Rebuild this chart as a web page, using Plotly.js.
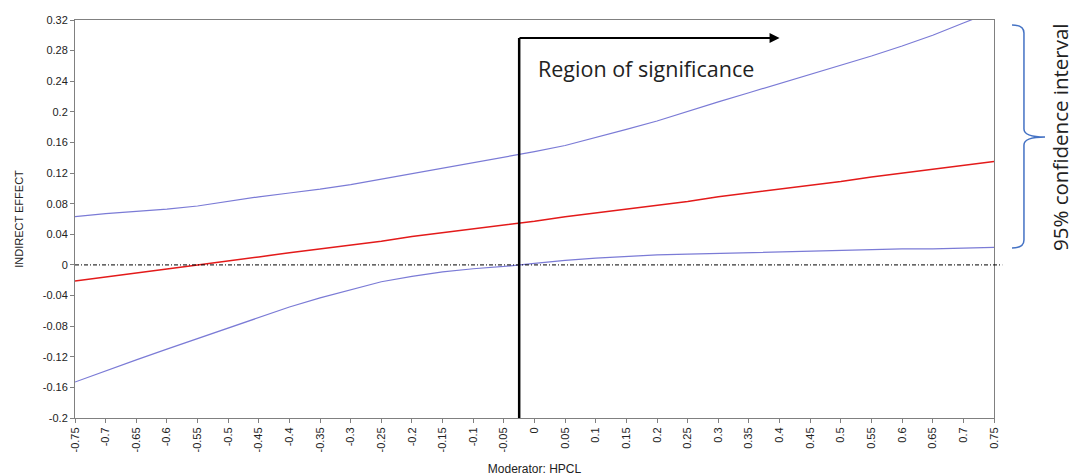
<!DOCTYPE html>
<html>
<head>
<meta charset="utf-8">
<script src="https://cdn.plot.ly/plotly-3.0.1.min.js"></script>
<style>html,body{margin:0;padding:0;background:#fff;}#chart{width:1073px;height:476px;}</style>
</head>
<body>
<div id="chart"></div>
<script>
// Moderator values (HPCL)
const moderator = [-0.75,-0.7,-0.65,-0.6,-0.55,-0.5,-0.45,-0.4,-0.35,-0.3,-0.25,-0.2,-0.15,-0.1,-0.05,0,
  0.05,0.1,0.15,0.2,0.25,0.3,0.35,0.4,0.45,0.5,0.55,0.6,0.65,0.7,0.75];
// Indirect effect (point estimate)
const indirectEffect = [-0.021,-0.016,-0.0105,-0.0053,0.000,0.005,0.0105,0.016,0.021,0.026,0.031,0.037,0.042,0.047,0.052,0.057,
  0.063,0.068,0.073,0.078,0.083,0.089,0.094,0.099,0.104,0.109,0.115,0.120,0.125,0.130,0.135];
// Upper 95% CI
const upperCI = [0.063,0.067,0.070,0.073,0.077,0.083,0.089,0.094,0.099,0.105,0.112,0.120,0.127,0.134,0.141,0.148,
  0.156,0.166,0.177,0.188,0.201,0.213,0.225,0.237,0.249,0.261,0.273,0.286,0.300,0.316,0.332];
// Lower 95% CI
const lowerCI = [-0.153,-0.138,-0.124,-0.110,-0.096,-0.082,-0.068,-0.055,-0.043,-0.032,-0.022,-0.015,-0.009,-0.005,-0.002,0.002,
  0.006,0.009,0.011,0.013,0.014,0.015,0.016,0.017,0.018,0.019,0.020,0.021,0.021,0.022,0.023];

// Tick labels
const xTickVals = [-0.75,-0.7,-0.65,-0.6,-0.55,-0.5,-0.45,-0.4,-0.35,-0.3,-0.25,-0.2,-0.15,-0.1,-0.05,0,
  0.05,0.1,0.15,0.2,0.25,0.3,0.35,0.4,0.45,0.5,0.55,0.6,0.65,0.7,0.75];
const xTickText = ["-0.75","-0.7","-0.65","-0.6","-0.55","-0.5","-0.45","-0.4","-0.35","-0.3","-0.25","-0.2","-0.15","-0.1","-0.05","0",
  "0.05","0.1","0.15","0.2","0.25","0.3","0.35","0.4","0.45","0.5","0.55","0.6","0.65","0.7","0.75"];
const yTickVals = [-0.2,-0.16,-0.12,-0.08,-0.04,0,0.04,0.08,0.12,0.16,0.2,0.24,0.28,0.32];
const yTickText = ["-0.2","-0.16","-0.12","-0.08","-0.04","0","0.04","0.08","0.12","0.16","0.2","0.24","0.28","0.32"];

// Johnson-Neyman boundary and arrow end
const jnPoint = -0.025;
const arrowEnd = 0.4;
const arrowLevel = 0.2965;

const blue = '#7b7bd6';
const traces = [
  {x: moderator, y: upperCI, type: 'scatter', mode: 'lines', line: {color: blue, width: 1.2}, hoverinfo: 'skip'},
  {x: moderator, y: lowerCI, type: 'scatter', mode: 'lines', line: {color: blue, width: 1.2}, hoverinfo: 'skip'},
  {x: moderator, y: indirectEffect, type: 'scatter', mode: 'lines', line: {color: '#e31a1a', width: 1.5}, hoverinfo: 'skip'}
];

const axisFont = {family: 'Liberation Sans, Arial, sans-serif', size: 11, color: '#222'};

const layout = {
  width: 1073, height: 476,
  margin: {l: 75, r: 79, t: 20, b: 58},
  paper_bgcolor: '#fff', plot_bgcolor: '#fff',
  showlegend: false,
  xaxis: {
    range: [-0.75, 0.75], tickvals: xTickVals, ticktext: xTickText, tickangle: -90,
    showgrid: false, zeroline: false, showline: true, linecolor: '#808080', linewidth: 1, mirror: true,
    ticks: 'outside', ticklen: 4, tickcolor: '#808080', tickfont: axisFont,
    title: {text: 'Moderator: HPCL', font: {family: 'Liberation Sans, Arial, sans-serif', size: 12, color: '#222'}, standoff: 18}
  },
  yaxis: {
    range: [-0.2, 0.32], tickvals: yTickVals, ticktext: yTickText,
    showgrid: false, zeroline: false, showline: true, linecolor: '#808080', linewidth: 1, mirror: true,
    ticks: 'outside', ticklen: 4, tickcolor: '#808080', tickfont: axisFont,
    title: {text: 'INDIRECT EFFECT', font: {family: 'Liberation Sans, Arial, sans-serif', size: 11, color: '#222'}, standoff: 16}
  },
  shapes: [
    {type: 'line', xref: 'paper', yref: 'y', x0: 0, x1: 1.009, y0: 0, y1: 0,
     line: {color: '#000', width: 1, dash: '4px,2px,1px,2px'}},
    {type: 'line', xref: 'x', yref: 'y', x0: jnPoint, x1: jnPoint, y0: -0.2, y1: arrowLevel,
     line: {color: '#000', width: 2.5}},
    {type: 'path', xref: 'paper', yref: 'paper',
     path: 'M 1.0196,0.9874 Q 1.0326,0.9874 1.0326,0.9673 L 1.0326,0.7261 Q 1.0326,0.7060 1.0555,0.7060 Q 1.0326,0.7060 1.0326,0.6859 L 1.0326,0.4472 Q 1.0326,0.4271 1.0196,0.4271',
     line: {color: '#4472c4', width: 1.5}}
  ],
  annotations: [
    {x: arrowEnd, y: arrowLevel, xref: 'x', yref: 'y', ax: jnPoint - 0.002, ay: arrowLevel, axref: 'x', ayref: 'y',
     showarrow: true, arrowhead: 2, arrowsize: 1, arrowwidth: 2, arrowcolor: '#000', text: ''},
    {x: 0.5016, y: 0.877, xref: 'paper', yref: 'paper', xanchor: 'left', yanchor: 'middle', showarrow: false,
     text: 'Region of significance', font: {family: 'Open Sans, Noto Sans, sans-serif', size: 21.5, color: '#222'}},
    {x: 1.0718, y: 0.706, xref: 'paper', yref: 'paper', xanchor: 'center', yanchor: 'middle', showarrow: false,
     textangle: -90, text: '95% confidence interval', font: {family: 'Open Sans, Noto Sans, sans-serif', size: 20.5, color: '#222'}}
  ]
};

Plotly.newPlot('chart', traces, layout, {displayModeBar: false, staticPlot: true});
</script>
</body>
</html>
